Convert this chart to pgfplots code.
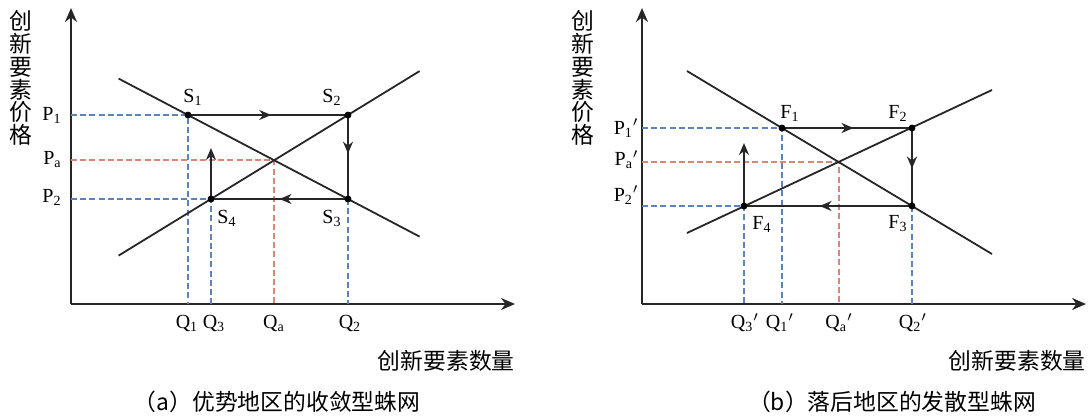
\documentclass[border=0pt]{standalone}
\usepackage{fontspec}
\setmainfont{Liberation Serif}
\newfontfamily\cjk{Noto Sans CJK SC}
\usepackage{pgfplots}
\pgfplotsset{compat=1.18}
\usetikzlibrary{arrows.meta, decorations.markings}

\definecolor{guideblue}{HTML}{5B84BD}
\definecolor{guidered}{HTML}{DD8573}

% one axis per panel, coordinates are in picture pixels (y counted upwards)
\pgfplotsset{
  web/.style={
    anchor=south west, x=0.5pt, y=0.5pt, clip=false,
    axis lines=left, enlargelimits=false,
    axis line style={black!85, line width=1pt, -{Stealth[length=7pt, width=6pt]}},
    xtick=\empty, ytick=\empty,
    ymin=115, ymax=411,
  },
}
\tikzset{
  curve/.style={black!85, line width=0.9pt, no marks},
  guide/.style={line width=0.7pt, dash pattern=on 3pt off 1.6pt, no marks},
  mid/.style={postaction={decorate}, decoration={markings,
      mark=at position #1 with {\arrow{Stealth[length=6pt, width=5pt]}}}},
  lab/.style={font=\fontsize{10}{12}\selectfont, inner sep=0pt},
  cn/.style={font=\cjk\fontsize{11.4}{11.4}\selectfont, inner sep=0pt},
}

\begin{document}
\begin{tikzpicture}
\useasboundingbox (0,0) rectangle (544.5pt,209.5pt);

% (a) convergent cobweb
\begin{axis}[web, at={(35.5pt,57.5pt)}, xmin=71, xmax=515]
  \addplot[guide, guideblue] coordinates {(71,304)(188,304)(188,115)};
  \addplot[guide, guidered] coordinates {(71,259)(274,259)(274,115)};
  \addplot[guide, guideblue] coordinates {(71,220)(211,220)(211,115)};
  \addplot[guide, guideblue] coordinates {(348,220)(348,115)};
  \addplot[curve] coordinates {(118.6,340.4)(419.6,182.4)};
  \addplot[curve] coordinates {(118.6,163.4)(419.6,347.9)};
  \addplot[curve, mid=0.52] coordinates {(188,304)(348,304)};
  \addplot[curve, mid=0.46] coordinates {(348,304)(348,220)};
  \addplot[curve, mid=0.5] coordinates {(348,220)(211,220)};
  \addplot[curve, -{Stealth[length=6pt, width=5pt]}] coordinates {(211,220)(211,271)};
  \addplot[only marks, mark=*, mark size=1.5pt, black] coordinates {(188,304)(348,304)(348,220)(211,220)};

  \node[lab] at (axis cs:193,322) {S\textsubscript{1}};
  \node[lab] at (axis cs:332,322) {S\textsubscript{2}};
  \node[lab] at (axis cs:332,201) {S\textsubscript{3}};
  \node[lab] at (axis cs:227,201) {S\textsubscript{4}};
  \node[lab, anchor=east] at (axis cs:62,304) {P\textsubscript{1}};
  \node[lab, anchor=east] at (axis cs:62,259) {P\textsubscript{a}};
  \node[lab, anchor=east] at (axis cs:62,222) {P\textsubscript{2}};
  \node[lab] at (axis cs:187,96) {Q\textsubscript{1}};
  \node[lab] at (axis cs:214,96) {Q\textsubscript{3}};
  \node[lab] at (axis cs:274,96) {Q\textsubscript{a}};
  \node[lab] at (axis cs:350,96) {Q\textsubscript{2}};

  \node[cn, align=center] at (axis cs:20.6,341) {创\\新\\要\\素\\价\\格};
  \node[cn, anchor=east] at (axis cs:515,58) {创新要素数量};
  \node[cn] at (axis cs:277,17) {（a）优势地区的收敛型蛛网};
\end{axis}

% (b) divergent cobweb
\begin{axis}[web, at={(321pt,57.5pt)}, xmin=642, xmax=1086]
  \addplot[guide, guideblue] coordinates {(642,291)(782,291)(782,115)};
  \addplot[guide, guidered] coordinates {(642,257)(839,257)(839,115)};
  \addplot[guide, guideblue] coordinates {(642,213)(744,213)(744,115)};
  \addplot[guide, guideblue] coordinates {(912,213)(912,115)};
  \addplot[curve] coordinates {(687,348)(992,165)};
  \addplot[curve] coordinates {(687,186)(992,329)};
  \addplot[curve, mid=0.55] coordinates {(782,291)(912,291)};
  \addplot[curve, mid=0.52] coordinates {(912,291)(912,213)};
  \addplot[curve, mid=0.55] coordinates {(912,213)(744,213)};
  \addplot[curve, -{Stealth[length=6pt, width=5pt]}] coordinates {(744,213)(744,276)};
  \addplot[only marks, mark=*, mark size=1.5pt, black] coordinates {(782,291)(912,291)(912,213)(744,213)};

  \node[lab] at (axis cs:790,306) {F\textsubscript{1}};
  \node[lab] at (axis cs:898,306) {F\textsubscript{2}};
  \node[lab] at (axis cs:898,195) {F\textsubscript{3}};
  \node[lab] at (axis cs:762,195) {F\textsubscript{4}};
  \node[lab, anchor=east] at (axis cs:639,291) {P\textsubscript{1}\textsuperscript{$\prime$}};
  \node[lab, anchor=east] at (axis cs:639,259) {P\textsubscript{a}\textsuperscript{$\prime$}};
  \node[lab, anchor=east] at (axis cs:639,224) {P\textsubscript{2}\textsuperscript{$\prime$}};
  \node[lab] at (axis cs:745,96) {Q\textsubscript{3}\textsuperscript{$\prime$}};
  \node[lab] at (axis cs:780,96) {Q\textsubscript{1}\textsuperscript{$\prime$}};
  \node[lab] at (axis cs:839,96) {Q\textsubscript{a}\textsuperscript{$\prime$}};
  \node[lab] at (axis cs:913,96) {Q\textsubscript{2}\textsuperscript{$\prime$}};

  \node[cn, align=center] at (axis cs:583,341) {创\\新\\要\\素\\价\\格};
  \node[cn, anchor=east] at (axis cs:1086,58) {创新要素数量};
  \node[cn] at (axis cs:892,17) {（b）落后地区的发散型蛛网};
\end{axis}
\end{tikzpicture}
\end{document}
